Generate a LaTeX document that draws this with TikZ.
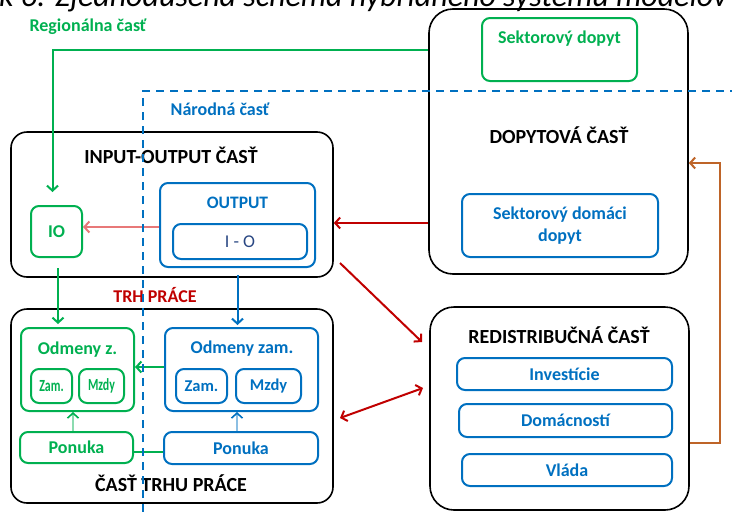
\documentclass[tikz,border=0pt]{standalone}
\usepackage{fontspec}
\setmainfont{Carlito}
\usetikzlibrary{arrows.meta,calc}
\definecolor{grn}{RGB}{0,176,80}
\definecolor{blu}{RGB}{0,112,192}
\definecolor{rd}{RGB}{192,0,0}
\definecolor{brn}{RGB}{190,100,40}
\definecolor{pnk}{RGB}{232,120,120}
\definecolor{iot}{RGB}{40,70,130}
\begin{document}
\begin{tikzpicture}[x=1pt,y=-1pt,
  bigbox/.style={draw=black,line width=1.6pt,rounded corners=#1,inner sep=0pt},
  gbox/.style={draw=grn,line width=2pt,rounded corners=8pt,inner sep=0pt,text=grn,font=\bfseries\fontsize{18}{20}\selectfont},
  bbox/.style={draw=blu,line width=2pt,rounded corners=8pt,inner sep=0pt,text=blu,font=\bfseries\fontsize{18}{20}\selectfont},
  title/.style={font=\bfseries\fontsize{20}{22}\selectfont,text=black,inner sep=0pt},
  lbl/.style={font=\bfseries\fontsize{18}{20}\selectfont,inner sep=0pt},
  tip/.style={-{Straight Barb[length=5pt,width=11pt]}},
  garrow/.style={tip,draw=grn,line width=2pt},
  barrow/.style={tip,draw=blu,line width=2pt},
  rarrow/.style={tip,draw=rd,line width=2pt},
  sz/.style 2 args={minimum width=#1,minimum height=#2}]
\useasboundingbox (0,0) rectangle (732,512);
\clip (0,0) rectangle (732,512);

% caption (cut off at top)
\node[anchor=base west,inner sep=0pt,font=\itshape\fontsize{32}{34}\selectfont,text=black] (cap) at (-1,6) {k 6: Zjednodušená schéma hybridného systému modelov};

% big boxes
\node[bigbox=16pt,sz={322}{145}] (io) at (172,204.5) {};
\node[bigbox=16pt,sz={322}{194}] (trh) at (172,406) {};
\node[bigbox=24pt,sz={259}{265}] (dop) at (558.5,141.5) {};
\node[bigbox=24pt,sz={259}{203}] (redis) at (559.5,408.5) {};

% titles
\node[title] (tio) at (171,155) {INPUT-OUTPUT ČASŤ};
\node[title] (ttrh) at (171,483) {ČASŤ TRHU PRÁCE};
\node[title] (tdop) at (559,135) {DOPYTOVÁ ČASŤ};
\node[title] (tred) at (559,335) {REDISTRIBUČNÁ ČASŤ};
\node[lbl,text=rd] (trhp) at (155,295) {TRH PRÁCE};
\node[lbl,text=grn] (reg) at (88,27) {Regionálna časť};
\node[lbl,text=blu] (nar) at (220,109) {Národná časť};

% green boxes
\node[gbox,sz={155}{63}] (sekt) at (559.5,49.5) {};
\node[lbl,text=grn] (tsekt) at (559.5,39) {Sektorový dopyt};
\node[gbox,sz={51}{51}] (IO) at (56.5,231.5) {IO};
\node[gbox,sz={113}{83}] (odmz) at (77.5,369.5) {};
\node[lbl,text=grn] (todmz) at (77.5,350) {Odmeny z.};
\node[gbox,sz={41}{34},font=\bfseries\fontsize{17}{18}\selectfont] (zamg) at (51.5,386) {\scalebox{0.7}[1]{Zam.}};
\node[gbox,sz={45}{34},font=\bfseries\fontsize{17}{18}\selectfont] (mzdyg) at (101.5,386) {\scalebox{0.7}[1]{Mzdy}};
\node[gbox,sz={113}{31}] (ponukag) at (76.5,447.5) {Ponuka};

% blue boxes
\node[bbox,sz={155}{84}] (output) at (237.5,225) {};
\node[lbl,text=blu,font=\bfseries\fontsize{17.5}{20}\selectfont] (toutput) at (237.5,203) {OUTPUT};
\node[bbox,sz={134}{35},text=iot,font=\fontsize{18}{20}\selectfont] (iob) at (240,241.5) {I - O};
\node[bbox,sz={153}{83}] (odmb) at (241.5,369.5) {};
\node[lbl,text=blu] (todmb) at (242,349) {Odmeny zam.};
\node[bbox,sz={51}{34},font=\bfseries\fontsize{16.5}{18}\selectfont] (zamb) at (201.5,386) {Zam.};
\node[bbox,sz={65}{34},font=\bfseries\fontsize{16.5}{18}\selectfont] (mzdyb) at (268.5,386) {Mzdy};
\node[bbox,sz={154}{32}] (ponb) at (241,448) {Ponuka};
\node[bbox,sz={196}{63},align=center,font=\bfseries\fontsize{18}{22}\selectfont] (sdd) at (560,225.5) {Sektorový domáci\\dopyt};
\node[bbox,sz={215}{32}] (inv) at (564.5,374) {Investície};
\node[bbox,sz={213}{33}] (dom) at (565.5,420.5) {Domácností};
\node[bbox,sz={210}{32}] (vla) at (567,470) {Vláda};

% free ends of diagonal arrows
\coordinate (d1) at (340,263);
\coordinate (d2) at (422,342);
\coordinate (d3) at (340,418);
\coordinate (d4) at (423,388);

% connectors
\draw[garrow,shorten >=13pt] (sekt.west -| dop.west) -| ([xshift=-4pt]IO.north);
\draw[garrow,shorten <=10pt,shorten >=3pt] ([xshift=1.5pt]IO.south) -- ([xshift=1.5pt]IO.south |- odmz.north);
\draw[barrow,shorten <=7pt,shorten >=2pt] (output.south) -- (output.south |- odmb.north);
\draw[garrow] ([yshift=2.5pt]odmb.west) -- ([yshift=2.5pt]odmb.west -| odmz.east);
\draw[tip,draw=pnk,line width=2pt] ([yshift=-2pt]output.west) -- ([yshift=-2pt]output.west -| IO.east);
\draw[rarrow] ([yshift=2.5pt]sdd.west -| dop.west) -- ([yshift=2.5pt]sdd.west -| io.east);
\draw[rarrow] (d1) -- (d2);
\draw[rd,line width=2pt,{Straight Barb[length=5pt,width=11pt]}-{Straight Barb[length=5pt,width=11pt]}] (d3) -- (d4);
\draw[tip,draw=brn,line width=2pt] ($(redis.east)+(0,34.5)$) -- ++(30,0) |- ($(dop.east)+(0,21.5)$);
\draw[-{Straight Barb[length=5pt,width=11pt,line width=1.6pt,color=grn]},draw=grn!45,line width=2.6pt] ([xshift=-3.5pt]ponukag.north) -- ([xshift=-3.5pt]ponukag.north |- odmz.south);
\draw[-{Straight Barb[length=5pt,width=11pt,line width=1.6pt,color=blu]},draw=blu!45,line width=2.6pt] ([xshift=-4pt]ponb.north) -- ([xshift=-4pt]ponb.north |- odmb.south);
\draw[grn,line width=2pt] ([yshift=-4.5pt]ponukag.east) -- ([yshift=-4.5pt]ponukag.east -| ponb.west);

% national part dashed border
\draw[blu,line width=2pt,dash pattern=on 8pt off 6pt] (143,512) -- (143,91) -- (732,91);
\end{tikzpicture}
\end{document}
